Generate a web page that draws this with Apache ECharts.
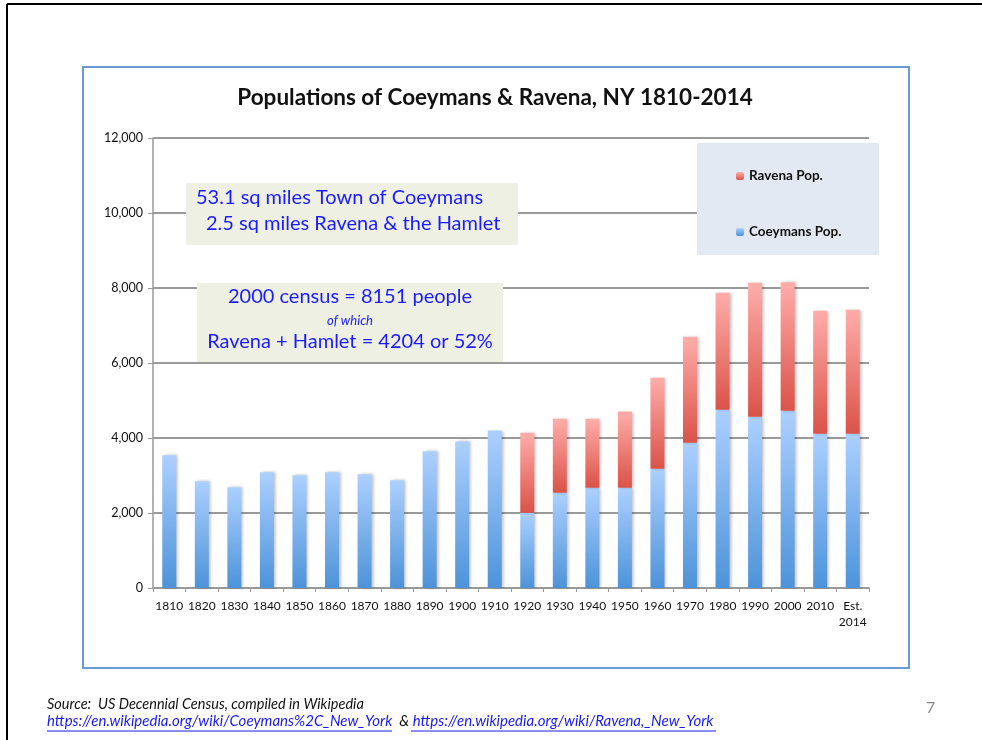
<!DOCTYPE html>
<html>
<head>
<meta charset="utf-8">
<script src="https://cdn.jsdelivr.net/npm/echarts@6/dist/echarts.min.js"></script>
<style>
  html, body { margin: 0; padding: 0; background: #fff; }
  #chart { width: 982px; height: 740px; }
</style>
</head>
<body>
<div id="chart"></div>
<script>
// census years on the x axis
var years = ["1810","1820","1830","1840","1850","1860","1870","1880","1890","1900","1910",
             "1920","1930","1940","1950","1960","1970","1980","1990","2000","2010","Est.\n2014"];
// Coeymans (outside Ravena) population
var coeymansPop = [3540,2850,2690,3090,3010,3090,3035,2875,3645,3910,4200,
                   2005,2540,2675,2675,3180,3875,4755,4570,4730,4115,4115];
// Ravena population, stacked on top
var ravenaPop = [null,null,null,null,null,null,null,null,null,null,null,
                 2135,1975,1840,2030,2430,2825,3120,3570,3421,3280,3305];
var yTicks = [0,2000,4000,6000,8000,10000,12000];

var FONT = "Lato, 'Open Sans', sans-serif";

var chart = echarts.init(document.getElementById('chart'));

function grad(top, bottom){
    return {
        type: 'linear', x: 0, y: 0, x2: 0, y2: 1,
        colorStops: [{offset: 0, color: top}, {offset: 1, color: bottom}]
    };
}

var option = {
    backgroundColor: '#ffffff',
    animation: false,
    textStyle: { fontFamily: FONT },
    grid: { left: 153, right: 113, top: 138, bottom: 152 },
    legend: {
        z: 20,
        orient: 'vertical',
        left: 731, top: 164,
        itemWidth: 8, itemHeight: 8, itemGap: 42,
        data: ['Ravena Pop.', 'Coeymans Pop.'],
        textStyle: { fontFamily: FONT, fontSize: 13.5, fontWeight: 'bold', color: '#111' }
    },
    xAxis: {
        type: 'category',
        data: years,
        axisLine: { lineStyle: { color: '#999', width: 1.5 } },
        axisTick: { show: true, length: 4, lineStyle: { color: '#999' } },
        axisLabel: { interval: 0, fontSize: 12, color: '#111', margin: 10, lineHeight: 16, verticalAlign: 'top' }
    },
    yAxis: {
        type: 'value',
        min: yTicks[0], max: yTicks[yTicks.length - 1], interval: 2000,
        axisLine: { show: true, lineStyle: { color: '#999', width: 1.5 } },
        axisTick: { show: true, length: 5, lineStyle: { color: '#999' } },
        axisLabel: {
            fontSize: 12.5, color: '#111', margin: 10,
            formatter: function(v){ return v.toLocaleString('en-US'); }
        },
        splitLine: { lineStyle: { color: '#9a9a9a', width: 2 } }
    },
    series: [
        {
            name: 'Coeymans Pop.',
            type: 'bar',
            stack: 'pop',
            barWidth: 14,
            data: coeymansPop,
            itemStyle: {
                color: grad('#acd0ff', '#4d93d9'),
                shadowColor: 'rgba(0,0,0,0.25)', shadowBlur: 3, shadowOffsetX: 2
            }
        },
        {
            name: 'Ravena Pop.',
            type: 'bar',
            stack: 'pop',
            barWidth: 14,
            data: ravenaPop,
            itemStyle: {
                color: grad('#ffadaa', '#da5248'),
                shadowColor: 'rgba(0,0,0,0.25)', shadowBlur: 3, shadowOffsetX: 2
            }
        }
    ],
    graphic: [
        // slide edge
        { type: 'line', shape: { x1: 7, y1: 4, x2: 982, y2: 4 }, style: { stroke: '#000', lineWidth: 2 }, z: 100 },
        { type: 'line', shape: { x1: 7, y1: 4, x2: 7, y2: 740 }, style: { stroke: '#000', lineWidth: 2 }, z: 100 },
        // chart frame
        { type: 'rect', shape: { x: 83, y: 67, width: 826, height: 601 },
          style: { fill: null, stroke: '#6a9bd3', lineWidth: 2 }, z: 100 },
        // title
        { type: 'text', x: 495, y: 86, z: 100,
          style: { text: 'Populations of Coeymans & Ravena, NY 1810-2014', fontFamily: FONT,
                   fontSize: 22.5, fontWeight: 'bold', fill: '#111', align: 'center' } },
        // legend panel
        { type: 'rect', shape: { x: 697, y: 143, width: 182, height: 112 },
          style: { fill: '#e2e9f2' }, z: 5 },
        // area box
        { type: 'rect', shape: { x: 186, y: 183, width: 332, height: 62 },
          style: { fill: '#eef0e4' }, z: 5 },
        { type: 'text', x: 196, y: 188, z: 6,
          style: { text: '53.1 sq miles Town of Coeymans', fontFamily: FONT, fontSize: 20, fill: '#1b1bff' } },
        { type: 'text', x: 206, y: 214, z: 6,
          style: { text: '2.5 sq miles Ravena & the Hamlet', fontFamily: FONT, fontSize: 20, fill: '#1b1bff' } },
        // census box
        { type: 'rect', shape: { x: 197, y: 283, width: 306, height: 79 },
          style: { fill: '#eef0e4' }, z: 5 },
        { type: 'text', x: 350, y: 287, z: 6,
          style: { text: '2000 census = 8151 people', fontFamily: FONT, fontSize: 20, fill: '#1b1bff', align: 'center' } },
        { type: 'text', x: 350, y: 314, z: 6,
          style: { text: 'of which', fontFamily: FONT, fontSize: 13, fontStyle: 'italic', fill: '#1b1bff', align: 'center' } },
        { type: 'text', x: 350, y: 332, z: 6,
          style: { text: 'Ravena + Hamlet = 4204 or 52%', fontFamily: FONT, fontSize: 20, fill: '#1b1bff', align: 'center' } },
        // source
        { type: 'text', x: 47, y: 697, z: 100,
          style: { text: 'Source:  US Decennial Census, compiled in Wikipedia', fontFamily: FONT,
                   fontSize: 14.5, fontStyle: 'italic', fill: '#111' } },
        { type: 'text', x: 47, y: 714, z: 100,
          style: { text: '{a|https://en.wikipedia.org/wiki/Coeymans%2C_New_York }{b| & }{a|https://en.wikipedia.org/wiki/Ravena,_New_York}',
                   fontFamily: FONT, fontSize: 15, fontStyle: 'italic',
                   rich: {
                       a: { fontFamily: FONT, fontSize: 15, fontStyle: 'italic', fill: '#1a1aee' },
                       b: { fontFamily: FONT, fontSize: 15, fontStyle: 'italic', fill: '#111' }
                   } } },
        // link underlines
        { type: 'line', shape: { x1: 47, y1: 731, x2: 392, y2: 731 }, style: { stroke: '#1a1aee', lineWidth: 1 }, z: 100 },
        { type: 'line', shape: { x1: 411, y1: 731, x2: 716, y2: 731 }, style: { stroke: '#1a1aee', lineWidth: 1 }, z: 100 },
        { type: 'text', x: 926, y: 700, z: 100,
          style: { text: '7', fontFamily: FONT, fontSize: 16, fill: '#888' } }
    ]
};

chart.setOption(option);
</script>
</body>
</html>
